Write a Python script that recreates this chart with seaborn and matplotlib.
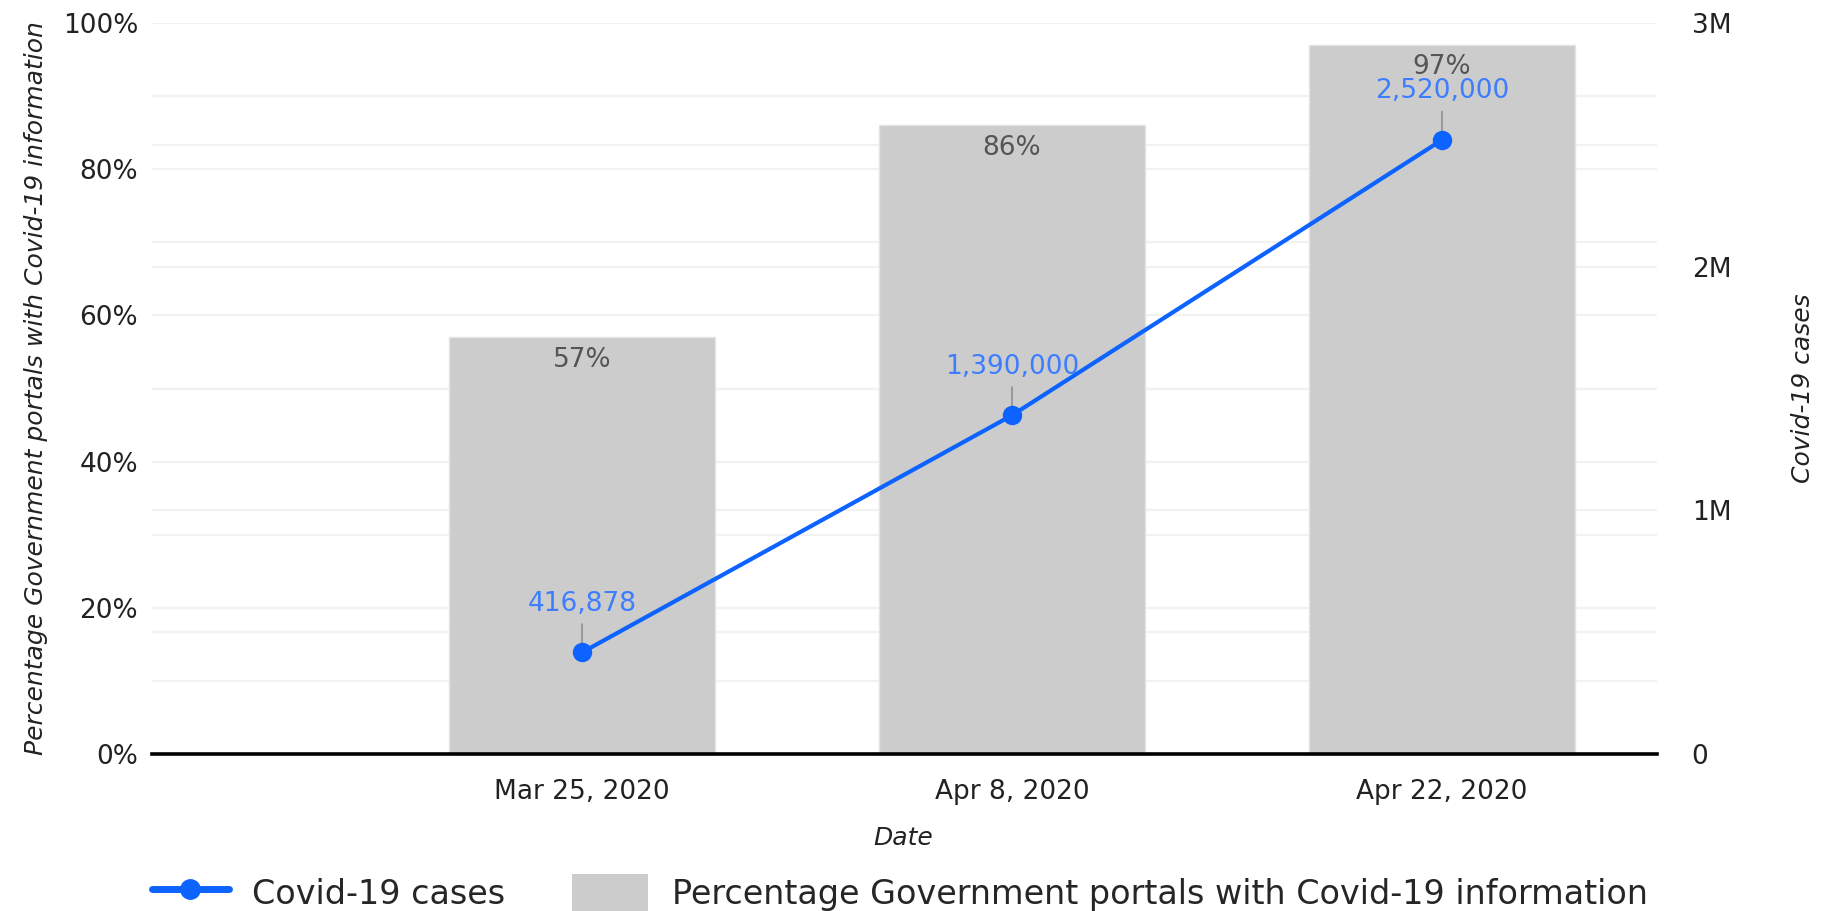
import numpy as np
import matplotlib
matplotlib.use("Agg")
import matplotlib.pyplot as plt
import seaborn as sns

dates = ["Mar 25, 2020", "Apr 8, 2020", "Apr 22, 2020"]
pct_portals = [57, 86, 97]
cases = [416878, 1390000, 2520000]
case_labels = ["416,878", "1,390,000", "2,520,000"]
pct_ticks = [0, 20, 40, 60, 80, 100]
case_ticks = [0, 1000000, 2000000, 3000000]
case_tick_labels = ["0", "1M", "2M", "3M"]

sns.set_theme(style="white")
plt.rcParams["font.family"] = ["DejaVu Sans"]

blue = "#0d63ff"
label_blue = "#3d7dff"
bar_gray = "#cccccc"

W, H = 1822, 911
fig = plt.figure(figsize=(W / 100, H / 100), dpi=100)
fig.patch.set_facecolor("white")
left, right, top, bottom = 152, 1657, 23, 754
ax = fig.add_axes([left / W, 1 - bottom / H, (right - left) / W, (bottom - top) / H])
ax2 = ax.twinx()

sns.barplot(x=dates, y=pct_portals, color=bar_gray, saturation=1, width=0.617,
            edgecolor="#e4e4e4", linewidth=1, ax=ax, zorder=2)
ax.set_xlim(-1, 2.5)
ax.set_ylim(0, 100)
ax.set_yticks(pct_ticks)
ax.set_yticklabels([f"{t}%" for t in pct_ticks])
# faint lines: every 10% plus the right-axis half-million steps
minor = [10, 30, 50, 70, 90] + [c / 30000 for c in range(500000, 3000001, 500000)]
ax.set_yticks(minor, minor=True)
ax.grid(True, axis="y", which="both", color="#f2f2f2", linewidth=1.6, zorder=0)
ax.set_axisbelow(True)
ax.tick_params(axis="both", which="both", length=0)
ax.tick_params(axis="y", labelsize=19, labelcolor="#222222", pad=10)
ax.tick_params(axis="x", labelsize=19, labelcolor="#222222", pad=18)
for s in ["top", "left", "right"]:
    ax.spines[s].set_visible(False)
ax.spines["bottom"].set_color("black")
ax.spines["bottom"].set_linewidth(2.6)
ax.spines["bottom"].set_zorder(5)

for i, v in enumerate(pct_portals):
    ax.annotate(f"{v}%", xy=(i, v), xytext=(0, -16), textcoords="offset points",
                ha="center", va="center", fontsize=19, color="#555555", zorder=3)

ax.set_xlabel("Date", fontsize=18, fontstyle="italic", color="#222222")
ax.xaxis.set_label_coords(0.499, -0.098)
ax.set_ylabel("Percentage Government portals with Covid-19 information",
              fontsize=18, fontstyle="italic", color="#222222")
ax.yaxis.set_label_coords(-0.069, 0.5)

sns.lineplot(x=np.arange(len(cases)), y=cases, color=blue, linewidth=3,
             marker="o", markersize=14, markeredgewidth=0, ax=ax2, zorder=4)
ax2.set_ylim(0, 3000000)
ax2.set_yticks(case_ticks)
ax2.set_yticklabels(case_tick_labels)
ax2.tick_params(axis="y", length=0, labelsize=19, labelcolor="#222222", pad=25)
for s in ["top", "left", "right", "bottom"]:
    ax2.spines[s].set_visible(False)
ax2.grid(False)
ax2.set_ylabel("Covid-19 cases", fontsize=18, fontstyle="italic", color="#222222")
ax2.yaxis.set_label_coords(1.089, 0.5)

for i, (v, lab) in enumerate(zip(cases, case_labels)):
    ax2.annotate(lab, xy=(i, v), xytext=(0, 35), textcoords="offset points",
                 ha="center", va="center", fontsize=19, color=label_blue,
                 arrowprops=dict(arrowstyle="-", color="#9a9a9a", lw=1.5,
                                 shrinkA=3, shrinkB=7))

handles = [
    matplotlib.lines.Line2D([], [], color=blue, linewidth=5, marker="o", markersize=14),
    matplotlib.patches.Patch(facecolor=bar_gray, edgecolor="none"),
]
fig.legend(handles, ["Covid-19 cases", "Percentage Government portals with Covid-19 information"],
           loc="center left", bbox_to_anchor=(152 / W, 1 - 893 / H), ncol=2,
           frameon=False, fontsize=24, handlelength=2.3, handleheight=1.4,
           handletextpad=0.7, columnspacing=2.0, borderpad=0, borderaxespad=0)

plt.savefig("out.png", dpi=100, facecolor="white")
